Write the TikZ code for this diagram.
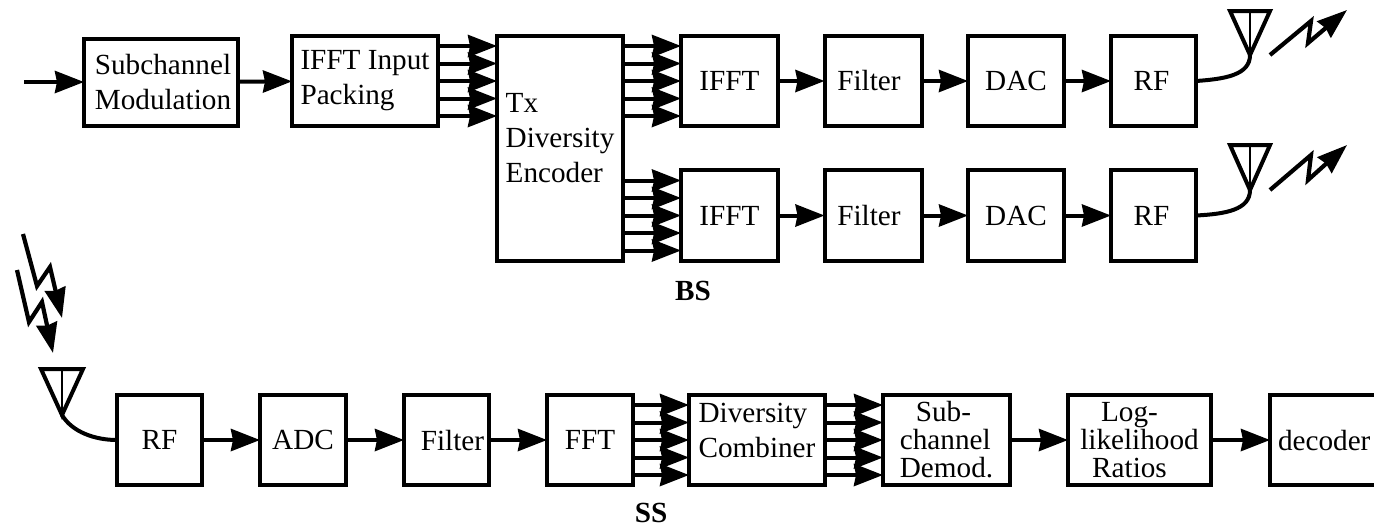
\documentclass[tikz,border=0pt]{standalone}
\usepackage{fontspec}
\setmainfont{Liberation Serif}
\usetikzlibrary{arrows.meta}
\tikzset{
	blk/.style 2 args={draw,line width=2pt,inner sep=0pt,outer sep=0pt,align=left,
		minimum width=#1*0.5pt,minimum height=#2*0.5pt,
		font=\fontsize{14.6}{17.5}\selectfont},
	tight/.style={font=\fontsize{14.6}{14}\selectfont},
	sig/.style={line width=2pt,-{Stealth[length=14.5pt,width=11pt,inset=1pt]}},
	wire/.style={line width=2pt},
	mast/.style={line width=2pt,line join=miter},
	bolt/.style={line width=2.1pt,miter limit=4,-{Stealth[length=15pt,width=10.5pt,inset=1pt]}},
}
\begin{document}
\begin{tikzpicture}[x=0.5pt,y=-0.5pt]
	\clip (0,0) rectangle (1374,526);

%	base station, upper branch
	\coordinate (in) at (24,82);
	\node[blk={154}{87}] (submod) at (161,82) {\hspace*{2pt}Subchannel\\\hspace*{2pt}Modulation};
	\node[blk={146}{90}] (packing) at (365,81) {IFFT Input\\Packing};
	\node[blk={126}{225}] (encoder) at (560,148.5) {Tx\\Diversity\\Encoder\\[-7pt]\mbox{}};
	\node[blk={97}{90}] (ifftA) at (729.5,81) {IFFT};
	\node[blk={97}{90}] (filterA) at (873,81) {\hspace*{-4pt}Filter};
	\node[blk={96}{90}] (dacA) at (1016,81) {DAC};
	\node[blk={85}{90}] (rfA) at (1153.5,81) {\hspace*{-2pt}RF};

%	base station, lower branch
	\node[blk={97}{91}] (ifftB) at (729.5,215.5) {IFFT};
	\node[blk={97}{91}] (filterB) at (873,215.5) {\hspace*{-4pt}Filter};
	\node[blk={96}{91}] (dacB) at (1016,215.5) {DAC};
	\node[blk={85}{91}] (rfB) at (1153.5,215.5) {\hspace*{-2pt}RF};

	\node[font=\fontsize{14.6}{17.5}\selectfont\bfseries,inner sep=0pt] (bslabel) at (693,291) {BS};

%	subscriber station
	\node[blk={85}{90}] (rfC) at (159.5,440) {RF};
	\node[blk={86}{90}] (adc) at (303,440) {ADC};
	\node[blk={85}{90}] (filterC) at (446.5,440) {\hspace*{6pt}Filter};
	\node[blk={86}{90}] (fft) at (590,440) {FFT};
	\node[blk={136}{90}] (combiner) at (757,440) {Diversity\\Combiner\\[-8pt]\mbox{}};
	\node[blk={127}{90},tight] (demod) at (946.5,440) {\hspace*{8pt}Sub-\\channel\\Demod.};
	\node[blk={143}{90},tight,align=center] (llr) at (1139.5,440) {Log-\hspace*{10pt}\\likelihood\\Ratios\hspace*{10pt}};
	\node[blk={130}{90},anchor=west,inner xsep=4pt,text width=57pt] (decoder) at (1270,440) {decoder};

	\node[font=\fontsize{14.6}{17.5}\selectfont\bfseries,inner sep=0pt] (sslabel) at (651,513) {SS};

	\draw[sig] (in) -- (submod);
	\draw[sig] (submod) -- (packing);
	\foreach \d in {-35,-17.5,0,17.5,35}{
		\draw[sig] ([yshift=\d*0.5pt]packing.east) -- ([yshift=\d*0.5pt]packing.east -| encoder.west);
		\draw[sig] ([yshift=\d*0.5pt]ifftA.west -| encoder.east) -- ([yshift=\d*0.5pt]ifftA.west);
		\draw[sig] ([yshift=\d*0.5pt]ifftB.west -| encoder.east) -- ([yshift=\d*0.5pt]ifftB.west);
		\draw[sig] ([yshift=\d*0.5pt]fft.east) -- ([yshift=\d*0.5pt]combiner.west);
		\draw[sig] ([yshift=\d*0.5pt]combiner.east) -- ([yshift=\d*0.5pt]demod.west);
	}
	\draw[sig] (ifftA) -- (filterA);
	\draw[sig] (filterA) -- (dacA);
	\draw[sig] (dacA) -- (rfA);
	\draw[sig] (ifftB) -- (filterB);
	\draw[sig] (filterB) -- (dacB);
	\draw[sig] (dacB) -- (rfB);
	\draw[sig] (rfC) -- (adc);
	\draw[sig] (adc) -- (filterC);
	\draw[sig] (filterC) -- (fft);
	\draw[sig] (demod) -- (llr);
	\draw[sig] (llr) -- (decoder);

%	antennas and radio links
	\coordinate (feedA) at (1250,55);
	\coordinate (feedB) at (1250,190);
	\coordinate (feedC) at (62,415);
	\draw[mast] (1230,11) -- (1270,11) -- (feedA) -- cycle;
	\draw[mast,line width=1.3pt] (1250,11) -- (feedA);
	\draw[mast] (1230,145) -- (1270,145) -- (feedB) -- cycle;
	\draw[mast,line width=1.3pt] (1250,145) -- (feedB);
	\draw[mast] (41,369) -- (83,369) -- (feedC) -- cycle;
	\draw[mast,line width=1.3pt] (62,369) -- (feedC);
	\draw[wire] (rfA.east) .. controls (1225,79) and (1250,75) .. (feedA);
	\draw[wire] (rfB.east) .. controls (1225,214) and (1250,210) .. (feedB);
	\draw[wire] (rfC.west) .. controls (95,440) and (72,432) .. (feedC);
	\draw[bolt] (1270,55) -- (1311,21) -- (1308,43) -- (1347,10);
	\draw[bolt] (1270,190) -- (1311,155) -- (1308,180) -- (1347,145);
	\draw[bolt] (23,234) -- (37,286) -- (50,267) -- (62,318);
	\draw[bolt] (17,270) -- (29,322) -- (42,302) -- (53,353);
\end{tikzpicture}
\end{document}
